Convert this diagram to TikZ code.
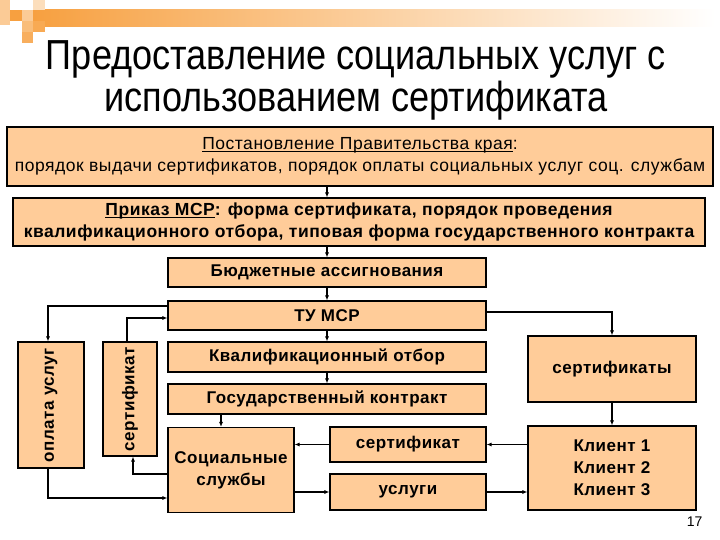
\documentclass[tikz,border=0pt]{standalone}
\usepackage{fontspec}
\usepackage{graphicx}
\setmainfont{Liberation Sans}
\newfontfamily\titlefont{Liberation Sans}[FakeStretch=0.86]
\newfontfamily\boxfont{Liberation Sans}[LetterSpace=3]
\usetikzlibrary{arrows.meta}
\definecolor{peach}{HTML}{FFCC99}
\definecolor{barorange}{HTML}{F7A040}
\newsavebox{\ulxbox}
\newcommand{\ulx}[1]{\sbox{\ulxbox}{#1}\rlap{\rule[-2.5pt]{\wd\ulxbox}{1pt}}\usebox{\ulxbox}}
\tikzset{
  box/.style={draw=black, line width=1.1pt, fill=peach, inner sep=0pt, align=center,
    font=\boxfont\fontsize{17}{22}\selectfont\bfseries},
  arr/.style={line width=1.5pt, -{Latex[length=5pt,width=4pt]}},
}
\begin{document}
\begin{tikzpicture}[x=1pt,y=-1pt]
\useasboundingbox[fill=white] (0,0) rectangle (720,540);
% decoration
\shade[left color=barorange, right color=white] (33,10) rectangle (715,27);
\fill[color=barorange!55] (0,0) rectangle (10,25);
\fill[color=barorange!35] (33,0) rectangle (45,10);
\fill[color=barorange] (10,10) rectangle (22,21);
\fill[color=barorange!55] (22,10) rectangle (33,21);
\fill[color=barorange!70] (22,21) rectangle (33,32);
\fill[color=barorange!90] (33,21) rectangle (45,32);
\fill[color=barorange!85] (22,32) rectangle (33,43);
% title
\node[font=\titlefont\fontsize{42}{42}\selectfont, align=center] (title) at (356,80)
  {Предоставление социальных услуг с\\использованием сертификата};
% boxes
\node[box, minimum width=706, minimum height=59, font=\boxfont\fontsize{17.5}{22}\selectfont] (b1) at (360,156.5)
  {\ulx{Постановление Правительства края}:\\порядок выдачи сертификатов, порядок оплаты социальных услуг соц. службам};
\node[box, minimum width=692, minimum height=48, font=\boxfont\fontsize{17.5}{22}\selectfont\bfseries] (b2) at (359,222)
  {\ulx{Приказ МСР}: форма сертификата, порядок проведения\\квалификационного отбора, типовая форма государственного контракта};
\node[box, minimum width=318, minimum height=29] (b3) at (327,272.5) {Бюджетные ассигнования};
\node[box, minimum width=318, minimum height=29] (tu) at (327,315.5) {ТУ МСР};
\node[box, minimum width=318, minimum height=30] (kv) at (327,357) {Квалификационный отбор};
\node[box, minimum width=318, minimum height=30] (gos) at (327,399) {Государственный контракт};
\node[box, minimum width=126, minimum height=85] (soc) at (231,470) {Социальные\\службы};
\node[box, minimum width=156, minimum height=35] (sc) at (408,444.5) {сертификат};
\node[box, minimum width=156, minimum height=36] (usl) at (408,492) {услуги};
\node[box, minimum width=168, minimum height=66] (certs) at (612,369) {сертификаты};
\node[box, minimum width=168, minimum height=84] (kl) at (612,468) {Клиент 1\\Клиент 2\\Клиент 3};
\node[box, minimum width=66, minimum height=126] (opl) at (51,405) {\rotatebox{90}{оплата услуг}};
\node[box, minimum width=54, minimum height=114] (cv) at (130,399) {\rotatebox{90}{сертификат}};
\node[font=\fontsize{14}{16}\selectfont, anchor=east] (pg) at (706,522) {17};
% helper coordinates
\coordinate (gx) at (221,0);
\coordinate (ox) at (48,0);
\coordinate (cx) at (127,0);
\coordinate (sx) at (133,0);
\coordinate (y1) at (0,306);
\coordinate (y2) at (0,318);
\coordinate (y3) at (0,498);
\coordinate (y4) at (0,474);
\coordinate (y5) at (0,312);
% connectors
\draw[arr] (b1.south -| b3.center) -- (b2.north -| b3.center);
\draw[arr] (b2.south -| b3.center) -- (b3.north);
\draw[arr] (b3.south) -- (tu.north);
\draw[arr] (tu.south) -- (kv.north);
\draw[arr] (kv.south) -- (gos.north);
\draw[arr] (gos.south -| gx) -- (soc.north -| gx);
\draw[arr] (tu.east |- y5) -| (certs.north);
\draw[arr] (certs.south) -- (kl.north);
\draw[arr] (sc.east -| kl.west) -- (sc.east);
\draw[arr] (usl.east) -- (usl.east -| kl.west);
\draw[arr] (sc.west) -- (sc.west -| soc.east);
\draw[arr] (usl.west -| soc.east) -- (usl.west);
\draw[arr] (tu.west |- y1) -| (opl.north -| ox);
\draw[arr] (cv.north -| cx) |- (tu.west |- y2);
\draw[arr] (opl.south -| ox) |- (soc.west |- y3);
\draw[arr] (soc.west |- y4) -| (cv.south -| sx);
\end{tikzpicture}
\end{document}
